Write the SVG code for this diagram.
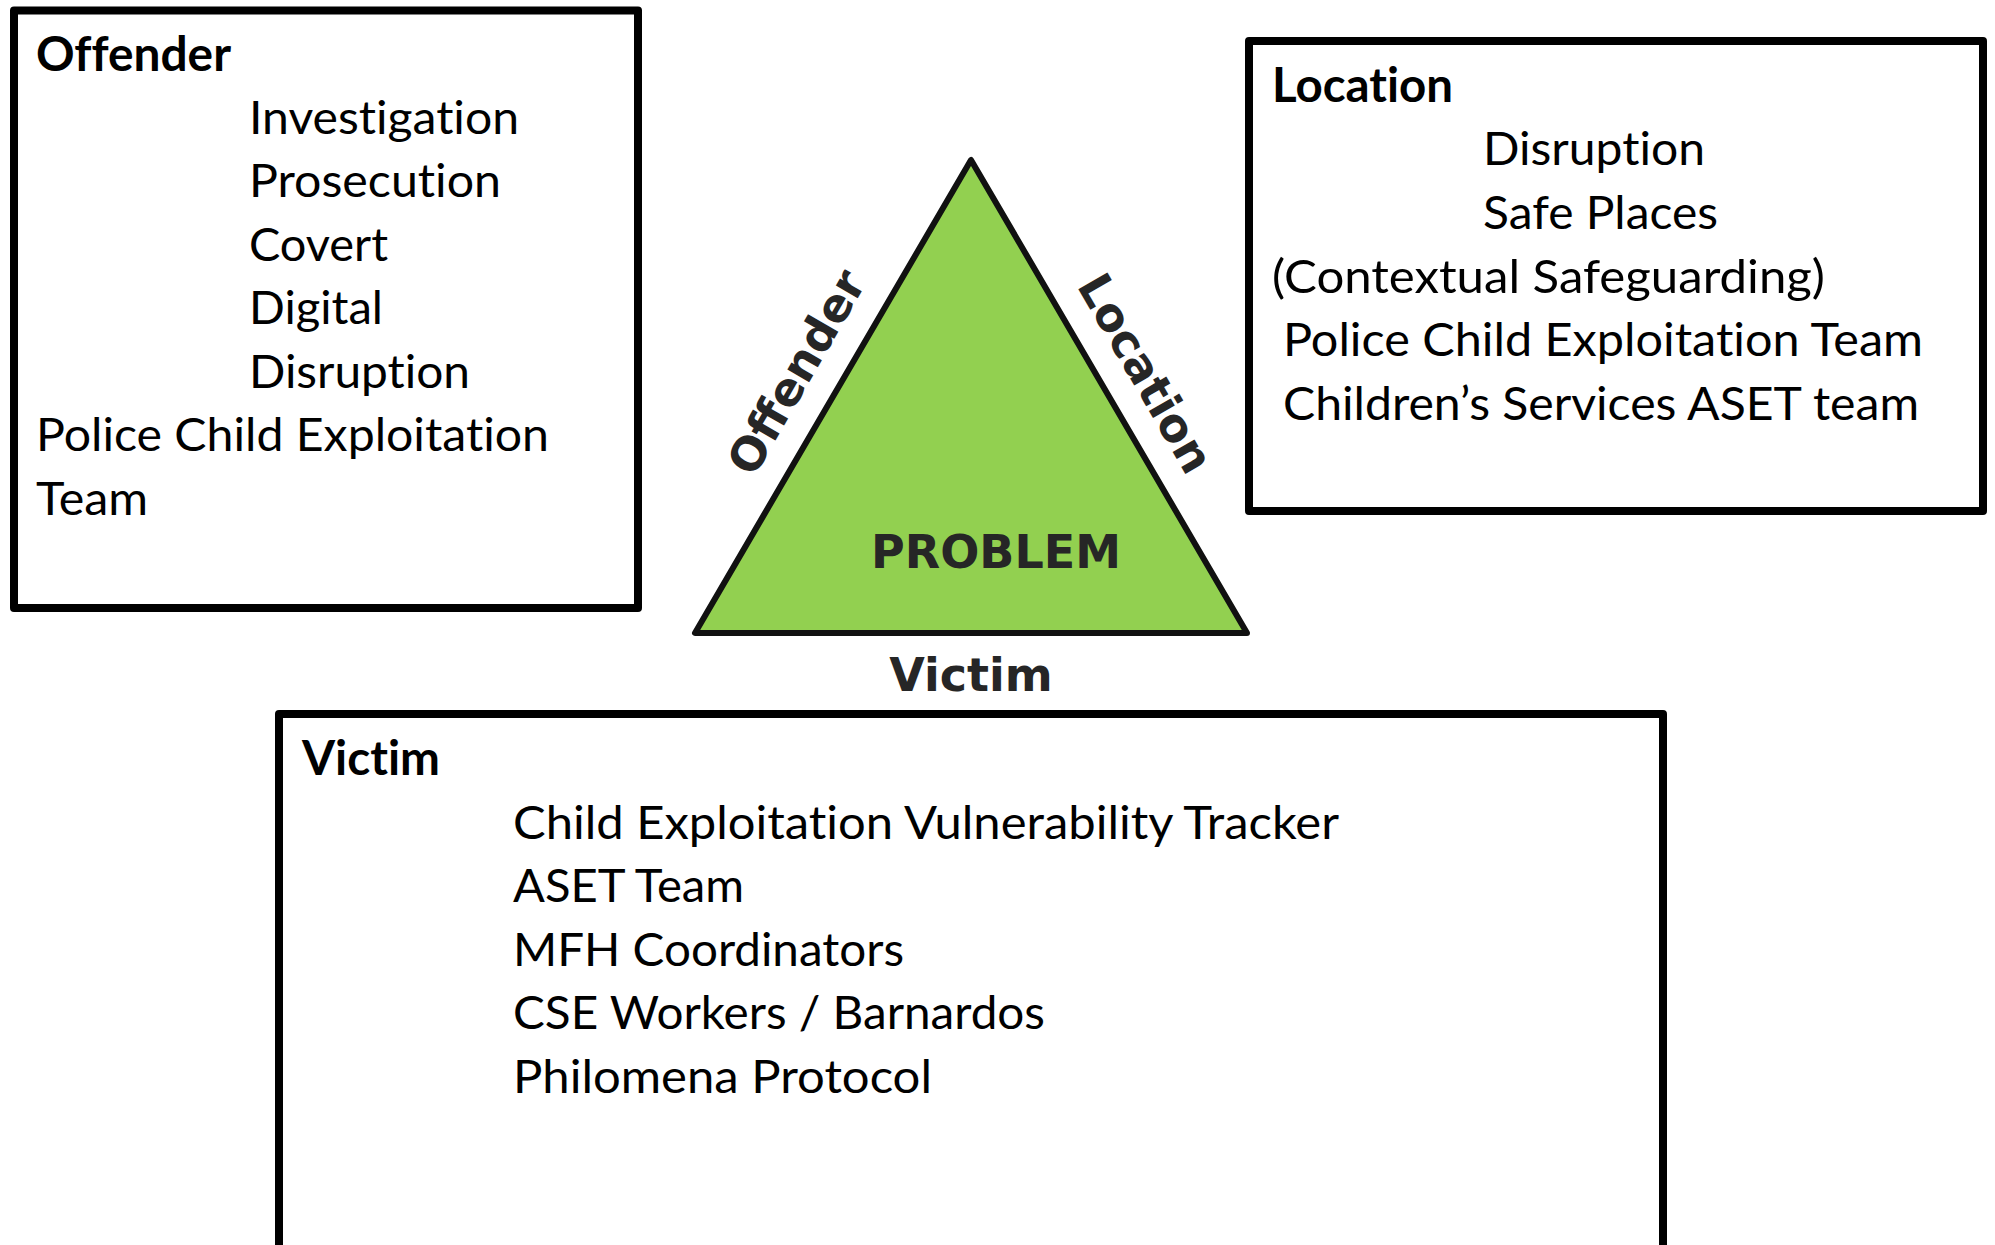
<svg xmlns="http://www.w3.org/2000/svg" width="1995" height="1245" viewBox="0 0 1995 1245">
<style>
.box{fill:#fff;stroke:#000;stroke-width:8;stroke-linejoin:round}
.t{font-family:Lato,"Liberation Sans",sans-serif;font-size:47px;fill:#000;font-variant-ligatures:none}
.b{font-weight:bold}
.tri{font-family:"DejaVu Sans",Verdana,sans-serif;font-weight:bold;font-size:46px;fill:#262626}
</style>
<rect width="1995" height="1245" fill="#fff"/>
<g id="offender-box">
<rect class="box" x="14" y="10.5" width="624" height="597.5"/>
<text class="t b" x="36" y="70.5" textLength="195" lengthAdjust="spacingAndGlyphs">Offender</text>
<text class="t" x="249" y="133.5" textLength="270" lengthAdjust="spacingAndGlyphs">Investigation</text>
<text class="t" x="249" y="197" textLength="252" lengthAdjust="spacingAndGlyphs">Prosecution</text>
<text class="t" x="249" y="260.5" textLength="139" lengthAdjust="spacingAndGlyphs">Covert</text>
<text class="t" x="249" y="324" textLength="134" lengthAdjust="spacingAndGlyphs">Digital</text>
<text class="t" x="249" y="387.5" textLength="221" lengthAdjust="spacingAndGlyphs">Disruption</text>
<text class="t" x="36" y="451" textLength="513" lengthAdjust="spacingAndGlyphs">Police Child Exploitation</text>
<text class="t" x="36" y="514.5" textLength="112" lengthAdjust="spacingAndGlyphs">Team</text>
</g>
<g id="location-box">
<rect class="box" x="1249" y="41" width="734" height="470"/>
<text class="t b" x="1272" y="101.7" textLength="181" lengthAdjust="spacingAndGlyphs">Location</text>
<text class="t" x="1483" y="165.3" textLength="222" lengthAdjust="spacingAndGlyphs">Disruption</text>
<text class="t" x="1483" y="228.9" textLength="235" lengthAdjust="spacingAndGlyphs">Safe Places</text>
<text class="t" x="1272" y="292.5" textLength="553" lengthAdjust="spacingAndGlyphs">(Contextual Safeguarding)</text>
<text class="t" x="1283" y="356.1" textLength="640" lengthAdjust="spacingAndGlyphs">Police Child Exploitation Team</text>
<text class="t" x="1283" y="419.7" textLength="636" lengthAdjust="spacingAndGlyphs">Children’s Services ASET team</text>
</g>
<g id="victim-box">
<rect class="box" x="279" y="714" width="1384" height="560"/>
<text class="t b" x="302" y="775" textLength="138" lengthAdjust="spacingAndGlyphs">Victim</text>
<text class="t" x="513" y="838.5" textLength="826" lengthAdjust="spacingAndGlyphs">Child Exploitation Vulnerability Tracker</text>
<text class="t" x="513" y="902" textLength="231" lengthAdjust="spacingAndGlyphs">ASET Team</text>
<text class="t" x="513" y="965.5" textLength="391" lengthAdjust="spacingAndGlyphs">MFH Coordinators</text>
<text class="t" x="513" y="1029" textLength="532" lengthAdjust="spacingAndGlyphs">CSE Workers / Barnardos</text>
<text class="t" x="513" y="1092.6" textLength="419" lengthAdjust="spacingAndGlyphs">Philomena Protocol</text>
</g>
<g id="problem-triangle">
<polygon points="971,160 695,633 1247,633" fill="#92D050" stroke="#111" stroke-width="6" stroke-linejoin="round"/>
<text class="tri" x="996" y="567.5" text-anchor="middle">PROBLEM</text>
<text class="tri" x="971" y="691" text-anchor="middle">Victim</text>
<text class="tri" transform="translate(796,372) rotate(-60)" y="16.5" text-anchor="middle">Offender</text>
<text class="tri" transform="translate(1146,373) rotate(60)" y="16.5" text-anchor="middle">Location</text>
</g>
<g id="connectors"></g>
</svg>
